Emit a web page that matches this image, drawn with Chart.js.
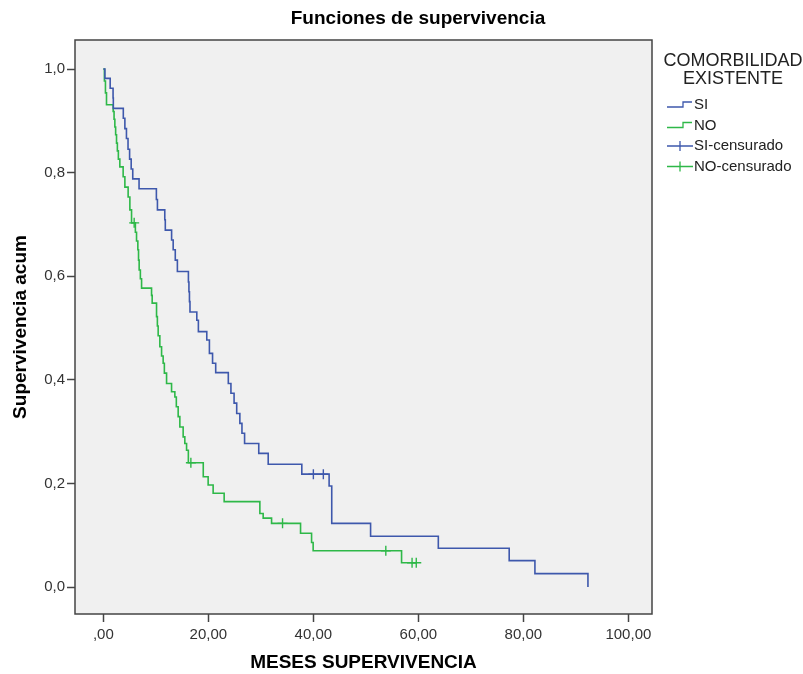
<!DOCTYPE html>
<html><head><meta charset="utf-8">
<script src="https://cdn.jsdelivr.net/npm/chart.js@4/dist/chart.umd.min.js"></script>
<style>html,body{margin:0;padding:0;background:#fff;}</style>
</head><body>
<canvas id="c" width="803" height="674"></canvas>
<script>
const titleText = 'Funciones de supervivencia';
const xAxisTitle = 'MESES SUPERVIVENCIA';
const yAxisTitle = 'Supervivencia acum';
const legendTitle = ['COMORBILIDAD', 'EXISTENTE'];
const seriesNames = ['SI', 'NO', 'SI-censurado', 'NO-censurado'];
const xTickValues = [0, 20, 40, 60, 80, 100];
const xTickLabels = [',00', '20,00', '40,00', '60,00', '80,00', '100,00'];
const yTickValues = [0, 0.2, 0.4, 0.6, 0.8, 1.0];
const yTickLabels = ['0,0', '0,2', '0,4', '0,6', '0,8', '1,0'];

// SI (comorbidity present) - Kaplan-Meier steps
const siTimes = [0, 0.3, 1.3, 1.85, 1.9, 3.8, 4.1, 4.4, 4.7, 5.0, 5.3, 5.6, 6.8, 10.1, 10.3, 11.7, 11.8, 13.0, 13.3, 13.7, 14.1, 16.2, 16.3, 16.4, 16.5, 17.8, 18.1, 19.7, 20.2, 20.8, 21.4, 23.8, 24.3, 24.9, 25.4, 26.0, 26.4, 26.9, 29.6, 31.4, 37.8, 43.0, 43.5, 50.9, 63.8, 77.3, 82.2, 92.3];
const siSurv = [1.0, 0.982, 0.963, 0.944, 0.924, 0.905, 0.885, 0.866, 0.845, 0.826, 0.807, 0.788, 0.769, 0.748, 0.728, 0.709, 0.689, 0.670, 0.651, 0.631, 0.609, 0.589, 0.570, 0.551, 0.531, 0.515, 0.493, 0.477, 0.451, 0.432, 0.414, 0.393, 0.374, 0.355, 0.335, 0.316, 0.297, 0.277, 0.258, 0.237, 0.218, 0.195, 0.123, 0.098, 0.075, 0.051, 0.026, 0.0];
// NO (no comorbidity)
const noTimes = [0, 0.2, 0.4, 0.6, 1.87, 2.04, 2.19, 2.34, 2.51, 2.67, 2.86, 3.14, 3.77, 4.10, 4.72, 5.05, 5.37, 6.10, 6.32, 6.57, 6.70, 6.82, 7.05, 7.28, 9.18, 9.30, 10.13, 10.29, 10.44, 10.76, 11.09, 11.39, 11.62, 12.04, 12.99, 13.62, 13.90, 14.25, 14.57, 15.20, 15.52, 15.85, 16.19, 19.03, 19.96, 20.91, 23.01, 29.81, 30.44, 32.04, 37.56, 39.66, 39.96, 56.8, 59.6];
const noSurv = [1.0, 0.977, 0.954, 0.931, 0.918, 0.903, 0.888, 0.873, 0.857, 0.842, 0.826, 0.811, 0.792, 0.772, 0.753, 0.728, 0.703, 0.685, 0.668, 0.651, 0.631, 0.612, 0.595, 0.577, 0.563, 0.548, 0.522, 0.504, 0.485, 0.464, 0.446, 0.432, 0.413, 0.393, 0.377, 0.367, 0.348, 0.329, 0.309, 0.290, 0.277, 0.264, 0.240, 0.213, 0.197, 0.181, 0.165, 0.142, 0.133, 0.123, 0.104, 0.086, 0.070, 0.047, 0.047];
// censored observations
const siCensTimes = [40.0, 41.9];
const siCensSurv = [0.218, 0.218];
const noCensTimes = [5.87, 16.67, 34.13, 53.8, 58.8, 59.6];
const noCensSurv = [0.703, 0.240, 0.123, 0.070, 0.047, 0.047];

const BLUE = '#3E58AC';
const GREEN = '#2EB848';
const FONT = "'Liberation Sans', Arial, Helvetica, sans-serif";

const pts = (xs, ys) => xs.map((x, i) => ({x: x, y: ys[i]}));

const bgPlugin = {
  id: 'bg',
  beforeDraw(chart) {
    const {ctx, chartArea: a} = chart;
    ctx.save();
    ctx.fillStyle = '#ffffff';
    ctx.fillRect(0, 0, chart.width, chart.height);
    ctx.fillStyle = '#F0F0F0';
    ctx.fillRect(a.left, a.top, a.right - a.left, a.bottom - a.top);
    ctx.restore();
  },
  afterDraw(chart) {
    const {ctx, chartArea: a} = chart;
    ctx.save();
    // frame
    ctx.strokeStyle = '#444';
    ctx.lineWidth = 1.5;
    ctx.strokeRect(a.left, a.top, a.right - a.left, a.bottom - a.top);
    // title
    ctx.fillStyle = '#000';
    ctx.font = 'bold 19px ' + FONT;
    ctx.textAlign = 'center';
    ctx.textBaseline = 'middle';
    ctx.fillText(titleText, 418, 19);
    // legend
    ctx.font = '18px ' + FONT;
    ctx.fillStyle = '#222';
    ctx.fillText(legendTitle[0], 733, 61);
    ctx.fillText(legendTitle[1], 733, 79);
    ctx.font = '15px ' + FONT;
    ctx.textAlign = 'left';
    const rows = [105, 125.5, 146, 166.5];
    const cols = [BLUE, GREEN, BLUE, GREEN];
    for (let i = 0; i < 4; i++) {
      const yc = rows[i];
      ctx.strokeStyle = cols[i];
      ctx.lineWidth = 1.3;
      ctx.beginPath();
      if (i < 2) {
        ctx.moveTo(667, yc + 2); ctx.lineTo(683, yc + 2); ctx.lineTo(683, yc - 3); ctx.lineTo(692, yc - 3);
      } else {
        ctx.moveTo(667, yc); ctx.lineTo(693, yc);
        ctx.moveTo(680, yc - 5); ctx.lineTo(680, yc + 5);
      }
      ctx.stroke();
      ctx.fillStyle = '#222';
      ctx.fillText(seriesNames[i], 694, yc);
    }
    ctx.restore();
  }
};

new Chart(document.getElementById('c'), {
  type: 'line',
  data: {
    datasets: [
      {label: seriesNames[0], data: pts(siTimes, siSurv), borderColor: BLUE, borderWidth: 1.6, stepped: true, pointRadius: 0, fill: false},
      {label: seriesNames[1], data: pts(noTimes, noSurv), borderColor: GREEN, borderWidth: 1.6, stepped: true, pointRadius: 0, fill: false},
      {label: seriesNames[2], data: pts(siCensTimes, siCensSurv), showLine: false, pointStyle: 'cross', pointRadius: 5, pointBorderWidth: 1.4, borderColor: BLUE, backgroundColor: BLUE},
      {label: seriesNames[3], data: pts(noCensTimes, noCensSurv), showLine: false, pointStyle: 'cross', pointRadius: 5, pointBorderWidth: 1.4, borderColor: GREEN, backgroundColor: GREEN}
    ]
  },
  options: {
    responsive: false,
    animation: false,
    devicePixelRatio: 1,
    layout: {padding: {top: 40, right: 151, bottom: 0, left: 0}},
    plugins: {legend: {display: false}, title: {display: false}, tooltip: {enabled: false}},
    scales: {
      x: {
        type: 'linear', min: -5.4, max: 104.5,
        afterFit(s) { s.height = 60; },
        afterBuildTicks(s) { s.ticks = xTickValues.map(v => ({value: v})); },
        grid: {display: true, drawOnChartArea: false, drawTicks: true, tickLength: 8, tickColor: '#444', tickWidth: 1.5},
        border: {display: false},
        ticks: {
          padding: 4, color: '#333', font: {family: FONT, size: 15}, maxRotation: 0, autoSkip: false,
          callback(v) { const i = xTickValues.indexOf(v); return i >= 0 ? xTickLabels[i] : ''; }
        },
        title: {display: true, text: xAxisTitle, color: '#000', font: {family: FONT, size: 19, weight: 'bold'}, padding: {top: 0, bottom: 0}}
      },
      y: {
        type: 'linear', min: -0.052, max: 1.056,
        afterFit(s) { s.width = 75; },
        afterBuildTicks(s) { s.ticks = yTickValues.map(v => ({value: v})); },
        grid: {display: true, drawOnChartArea: false, drawTicks: true, tickLength: 8, tickColor: '#444', tickWidth: 1.5},
        border: {display: false},
        ticks: {
          padding: 2, color: '#333', font: {family: FONT, size: 15}, autoSkip: false,
          callback(v) { const i = yTickValues.findIndex(t => Math.abs(t - v) < 1e-6); return i >= 0 ? yTickLabels[i] : ''; }
        },
        title: {display: true, text: yAxisTitle, color: '#000', font: {family: FONT, size: 19, weight: 'bold'}, padding: {top: 9, bottom: 0}}
      }
    }
  },
  plugins: [bgPlugin]
});
</script>
</body></html>
